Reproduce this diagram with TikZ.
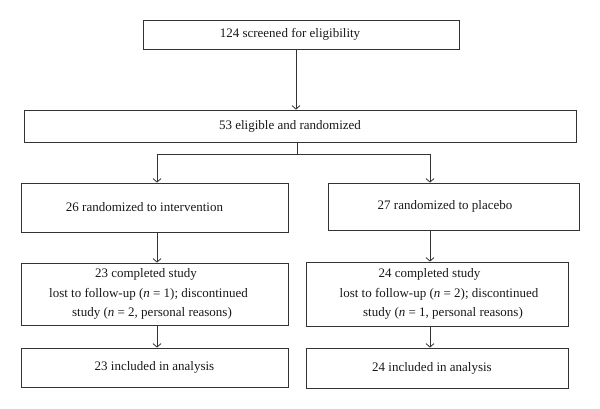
\documentclass[tikz,border=0pt]{standalone}
\usepackage{fontspec}
\setmainfont{Liberation Serif}
\usetikzlibrary{arrows.meta}
\begin{document}
\begin{tikzpicture}[x=1pt,y=-1pt,
  box/.style={draw=black!80,line width=0.8pt,inner sep=0pt},
  txt/.style={inner sep=0pt,align=center,font=\fontsize{13}{19.5}\selectfont,text=black!90},
  conn/.style={draw=black!80,line width=0.8pt},
  arr/.style={conn,-{Straight Barb[length=3.5pt,width=8pt]}}]
\useasboundingbox[fill=white] (0,0) rectangle (600,409);
% boxes
\node[box,minimum width=316pt,minimum height=29pt] (b1) at (301,34.5) {};
\node[box,minimum width=552pt,minimum height=32pt] (b2) at (300,126) {};
\node[box,minimum width=267pt,minimum height=49pt] (l3) at (154.5,207.5) {};
\node[box,minimum width=251pt,minimum height=47pt] (r3) at (453.5,206.5) {};
\node[box,minimum width=267pt,minimum height=62pt] (l4) at (154.5,294) {};
\node[box,minimum width=262pt,minimum height=64pt] (r4) at (437,294) {};
\node[box,minimum width=267pt,minimum height=39pt] (l5) at (154.5,367.5) {};
\node[box,minimum width=262pt,minimum height=40pt] (r5) at (437,368) {};
% texts
\node[txt] (b1t) at ([xshift=-11pt]b1.center) {124 screened for eligibility};
\node[txt] (b2t) at ([xshift=-10pt]b2.center) {53 eligible and randomized};
\node[txt] (l3t) at ([xshift=-10pt]l3.center) {26 randomized to intervention};
\node[txt] (r3t) at ([xshift=-8.5pt]r3.center) {27 randomized to placebo};
\node[txt] (l4t) at (l4.center) {\hspace*{-17pt}23 completed study\\\hspace*{-12pt}lost to follow-up (\textit{n} = 1); discontinued\\\hspace*{-5pt}study (\textit{n} = 2, personal reasons)};
\node[txt] (r4t) at (r4.center) {\hspace*{-15pt}24 completed study\\\hspace*{4pt}lost to follow-up (\textit{n} = 2); discontinued\\\hspace*{12pt}study (\textit{n} = 1, personal reasons)};
\node[txt] (l5t) at (l5.center) {23 included in analysis};
\node[txt] (r5t) at ([xshift=-5pt]r5.center) {24 included in analysis};
% connectors
\coordinate (topx) at (296,0);
\coordinate (split) at (297,154);
\coordinate (lx) at (157,0);
\coordinate (rx) at (430,0);
\draw[arr] (b1.south -| topx) -- (b2.north -| topx);
\draw[conn] (b2.south -| split) -- (split);
\draw[arr] (split) -| (l3.north -| lx);
\draw[arr] (split) -| (r3.north -| rx);
\draw[arr] (l3.south -| lx) -- (l4.north -| lx);
\draw[arr] (l4.south -| lx) -- (l5.north -| lx);
\draw[arr] (r3.south -| rx) -- (r4.north -| rx);
\draw[arr] (r4.south -| rx) -- (r5.north -| rx);
\end{tikzpicture}
\end{document}
